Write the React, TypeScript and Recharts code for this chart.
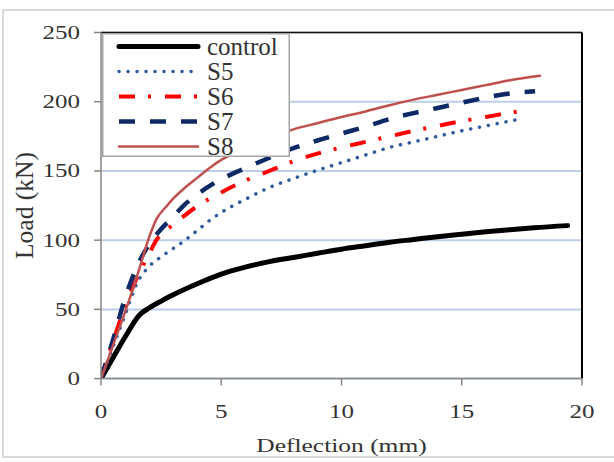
import React from 'react';
import { LineChart, Line, XAxis, YAxis, CartesianGrid, ReferenceLine, Legend } from 'recharts';

const FONT = '"Liberation Serif", "Times New Roman", serif';
const TEXT = '#333333';

const xTicks = [0, 5, 10, 15, 20];
const yTicks = [0, 50, 100, 150, 200, 250];

const controlDefl = [0, 0.5, 1, 1.6, 2, 2.5, 3, 4, 5, 6, 7, 8, 9, 10, 11, 12, 13, 14, 15, 16, 17, 18, 19.4];
const controlLoad = [0, 15, 30, 46, 51, 56, 60.5, 68.5, 75.5, 80.5, 84.5, 87.5, 90.5, 93.5, 96, 98.5, 100.5, 102.5, 104.3, 106, 107.6, 109, 110.5];

const s5Defl = [0, 0.5, 1, 1.5, 2, 2.5, 3, 3.5, 4, 4.5, 5, 5.5, 6, 7, 8, 9, 10, 11, 12, 13, 14, 15, 16, 17, 17.45];
const s5Load = [0, 23, 46, 69, 81, 88, 94, 100, 107, 114, 120, 125, 129.5, 138, 144.5, 150.5, 156, 161.5, 167, 171, 175, 179, 182.5, 186, 187.5];

const s6Defl = [0, 0.5, 1, 1.5, 2, 2.3, 2.7, 3.2, 4, 5, 6, 7, 8, 9, 10, 11, 12, 13, 14, 15, 16, 17, 17.7];
const s6Load = [0, 27, 52, 73, 90, 100, 107, 114, 124.5, 134.5, 143, 150, 157, 162.5, 167, 171, 175, 179, 182.5, 186, 189, 192, 194];

const s7Defl = [0, 0.5, 1, 1.5, 2, 2.5, 3, 3.5, 4, 4.5, 5, 6, 7, 8, 9, 10, 11, 12, 13, 14, 15, 16, 17, 18.05];
const s7Load = [0, 28, 58, 81, 97, 108, 117, 126, 133, 139, 144, 152, 159.5, 166.5, 172, 177, 182, 187.5, 191.8, 195.5, 199.3, 203, 206, 207.6];

const s8Defl = [0, 0.5, 1, 1.5, 2, 2.3, 2.7, 3, 3.5, 4, 4.5, 5, 6, 7, 8, 9, 10, 11, 12, 13, 14, 15, 16, 17, 18.25];
const s8Load = [0, 24, 48, 74, 102, 115, 124, 130, 138, 145, 152, 158, 166, 173.5, 180, 184.5, 189, 193, 197.5, 201.5, 205, 208.5, 212, 215.5, 218.7];

const seriesNames = ['control', 'S5', 'S6', 'S7', 'S8'];

const toPoints = (xs: number[], ys: number[]) => xs.map((x, i) => ({ x, y: ys[i] }));

const seriesData = [
  toPoints(controlDefl, controlLoad),
  toPoints(s5Defl, s5Load),
  toPoints(s6Defl, s6Load),
  toPoints(s7Defl, s7Load),
  toPoints(s8Defl, s8Load),
];

const seriesStyle = [
  { stroke: '#000000', width: 5, dash: undefined as string | undefined, cap: 'round' as const },
  { stroke: '#2f5b9c', width: 3.5, dash: '0.1 8.9', cap: 'round' as const },
  { stroke: '#ff0000', width: 4, dash: '16 13 3 14', cap: 'butt' as const },
  { stroke: '#0e2a66', width: 4.5, dash: '16 15', cap: 'butt' as const },
  { stroke: '#c0504d', width: 2.5, dash: undefined as string | undefined, cap: 'round' as const },
];

const XTick = (props: any) => {
  const { x, y, payload } = props;
  return (
    <text transform={`translate(${x},${y}) scale(1,0.74)`} textAnchor="middle" dy="0.71em"
      fontFamily={FONT} fontSize={25} fill={TEXT}>{payload.value}</text>
  );
};

const YTick = (props: any) => {
  const { x, y, payload } = props;
  return (
    <text transform={`translate(${x},${y}) scale(1,0.74)`} textAnchor="end" dy="0.35em"
      fontFamily={FONT} fontSize={25} fill={TEXT}>{payload.value}</text>
  );
};

const XLabel = (props: any) => {
  const vb = props.viewBox || {};
  const cx = vb.x + vb.width / 2;
  const by = vb.y + 73;
  return (
    <text transform={`translate(${cx},${by}) scale(1,0.76)`} textAnchor="middle"
      fontFamily={FONT} fontSize={25.5} fill={TEXT}>Deflection (mm)</text>
  );
};

const YLabel = (props: any) => {
  const vb = props.viewBox || {};
  const cx = vb.x - 8;
  const cy = vb.y + vb.height / 2;
  return (
    <text x={cx} y={cy} transform={`rotate(-90, ${cx}, ${cy})`} textAnchor="middle"
      fontFamily={FONT} fontSize={25.5} fill={TEXT}>Load (kN)</text>
  );
};

const LegendBox = () => (
  <svg width={188} height={124} style={{ display: 'block', overflow: 'visible' }}>
    <rect x={0.75} y={0.75} width={186.5} height={122.5} fill="#ffffff" stroke="#a6a6a6" strokeWidth={1.5} />
    {seriesNames.map((name, i) => {
      const st = seriesStyle[i];
      const base = 22 + i * 25;
      const ly = base - 8.5;
      return (
        <g key={name}>
          <line x1={17} x2={96} y1={ly} y2={ly} stroke={st.stroke} strokeWidth={st.width}
            strokeDasharray={st.dash} strokeLinecap={st.cap} />
          <text x={105} y={base} fontFamily={FONT} fontSize={25} fill={TEXT}>{name}</text>
        </g>
      );
    })}
  </svg>
);

export default function App() {
  return (
    <div style={{ position: 'absolute', left: 0, top: 0, width: 614, height: 462, background: '#ffffff', overflow: 'hidden' }}>
      <div style={{ position: 'absolute', left: 2, top: 9, width: 620, height: 449, border: '2px solid #d9d9d9', boxSizing: 'border-box', pointerEvents: 'none' }} />
      <LineChart width={614} height={462} margin={{ top: 32.5, right: 32, left: 41, bottom: 43.4 }}>
        <CartesianGrid vertical={false} stroke="#bccfe8" strokeWidth={2} />
        <XAxis type="number" dataKey="x" domain={[0, 20]} ticks={xTicks} allowDataOverflow
          height={40} tickSize={7} tickMargin={19} tick={XTick}
          axisLine={{ stroke: '#868686', strokeWidth: 1.5 }} tickLine={{ stroke: '#868686', strokeWidth: 1.5 }}
          label={XLabel} />
        <YAxis type="number" domain={[0, 250]} ticks={yTicks} allowDataOverflow
          width={60} tickSize={7} tickMargin={14} tick={YTick}
          axisLine={{ stroke: '#868686', strokeWidth: 1.5 }} tickLine={{ stroke: '#868686', strokeWidth: 1.5 }}
          label={YLabel} />
        <ReferenceLine y={250} stroke="#111111" strokeWidth={1.5} />
        <ReferenceLine x={20} stroke="#000000" strokeWidth={2} />
        {seriesNames.map((name, i) => (
          <Line key={name} name={name} data={seriesData[i]} dataKey="y" type="monotone"
            stroke={seriesStyle[i].stroke} strokeWidth={seriesStyle[i].width}
            strokeDasharray={seriesStyle[i].dash} strokeLinecap={seriesStyle[i].cap}
            dot={false} activeDot={false} isAnimationActive={false} />
        ))}
        <Legend layout="horizontal" verticalAlign="middle" align="center"
          wrapperStyle={{ left: 102, top: 33, width: 188, height: 124 }}
          content={LegendBox} />
      </LineChart>
    </div>
  );
}
